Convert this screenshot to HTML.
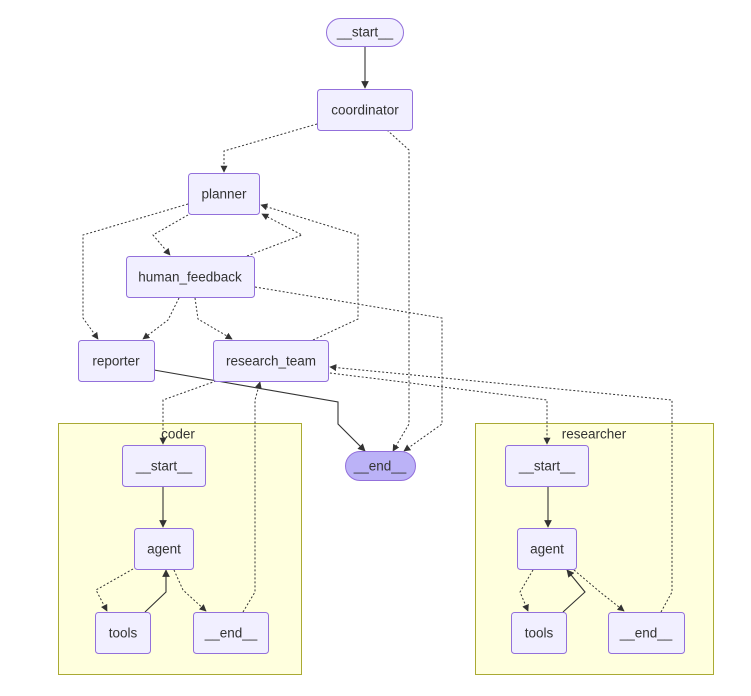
<!DOCTYPE html>
<html><head><meta charset="utf-8"><style>
html,body{margin:0;padding:0;background:#fff;}
svg{display:block;}
text{font-family:"Liberation Sans","DejaVu Sans",sans-serif;font-size:13.5px;fill:#333;text-anchor:middle;dominant-baseline:central;}
.n{fill:#f1efff;stroke:#9370db;stroke-width:1;}
.c{fill:#ffffde;stroke:#aaaa33;stroke-width:1;}
.s{fill:none;stroke:#333;stroke-width:1.1;}
.d{fill:none;stroke:#333;stroke-width:1;stroke-dasharray:2,2;}
</style></head><body>
<svg width="751" height="696" viewBox="0 0 751 696" xmlns="http://www.w3.org/2000/svg">
<defs><marker id="a" viewBox="0 0 10 10" refX="9" refY="5" markerWidth="7" markerHeight="7" orient="auto"><path d="M0,0L10,5L0,10z" fill="#333"/></marker></defs>
<rect class="c" x="58.5" y="423.5" width="243" height="251"/>
<rect class="c" x="475.5" y="423.5" width="238" height="251"/>
<text x="178" y="434">coder</text>
<text x="594" y="434">researcher</text>

<!-- edges -->
<path class="s" d="M365,46V88" marker-end="url(#a)"/>
<path class="d" d="M317,124L224,151V172" marker-end="url(#a)"/>
<path class="d" d="M387,130L409,150V424L393,451" marker-end="url(#a)"/>
<path class="d" d="M188,204L83,235V318L98,339" marker-end="url(#a)"/>
<path class="d" d="M188,215L153,235L170,255" marker-end="url(#a)"/>
<path class="d" d="M247,256L302,235L262,214" marker-end="url(#a)"/>
<path class="d" d="M313,340L358,319V235L261,205" marker-end="url(#a)"/>
<path class="d" d="M179,298L168,320L143,339" marker-end="url(#a)"/>
<path class="d" d="M195,298L198,319L232,339" marker-end="url(#a)"/>
<path class="d" d="M255,287L442,318V424L404,451" marker-end="url(#a)"/>
<path class="s" d="M154,370L338,402V424L365,451" marker-end="url(#a)"/>
<path class="d" d="M216,381L163,400V444" marker-end="url(#a)"/>
<path class="d" d="M243,612L255,592V400L260,382" marker-end="url(#a)"/>
<path class="d" d="M322,372L547,400V444" marker-end="url(#a)"/>
<path class="d" d="M661,612L672,592V400L330,367" marker-end="url(#a)"/>
<path class="s" d="M163,486V527" marker-end="url(#a)"/>
<path class="d" d="M133,569L96,590L107,611" marker-end="url(#a)"/>
<path class="s" d="M145,612L166,592V570" marker-end="url(#a)"/>
<path class="d" d="M174,570L183,590L206,611" marker-end="url(#a)"/>
<path class="s" d="M548,486V527" marker-end="url(#a)"/>
<path class="d" d="M533,570L520,592L528,611" marker-end="url(#a)"/>
<path class="s" d="M563,612L585,592L567,570" marker-end="url(#a)"/>
<path class="d" d="M574,570L600,592L624,611" marker-end="url(#a)"/>

<!-- nodes -->
<rect class="n" x="326.5" y="18.5" width="77" height="28" rx="14"/><text x="365" y="32">__start__</text>
<rect class="n" x="317.5" y="89.5" width="95" height="41" rx="3"/><text x="365" y="110">coordinator</text>
<rect class="n" x="188.5" y="173.5" width="71" height="41" rx="3"/><text x="224" y="194">planner</text>
<rect class="n" x="126.5" y="256.5" width="128" height="41" rx="3"/><text x="190" y="277">human_feedback</text>
<rect class="n" x="78.5" y="340.5" width="76" height="41" rx="3"/><text x="116" y="361">reporter</text>
<rect class="n" x="213.5" y="340.5" width="115" height="41" rx="3"/><text x="271" y="361">research_team</text>
<rect x="345.5" y="451.5" width="70" height="29" rx="14.5" fill="#bbb2f7" stroke="#9370db"/><text x="380" y="466">__end__</text>

<rect class="n" x="122.5" y="445.5" width="83" height="41" rx="3"/><text x="164" y="466">__start__</text>
<rect class="n" x="134.5" y="528.5" width="59" height="41" rx="3"/><text x="164" y="549">agent</text>
<rect class="n" x="95.5" y="612.5" width="55" height="41" rx="3"/><text x="123" y="633">tools</text>
<rect class="n" x="193.5" y="612.5" width="75" height="41" rx="3"/><text x="231" y="633">__end__</text>

<rect class="n" x="505.5" y="445.5" width="83" height="41" rx="3"/><text x="547" y="466">__start__</text>
<rect class="n" x="517.5" y="528.5" width="59" height="41" rx="3"/><text x="547" y="549">agent</text>
<rect class="n" x="511.5" y="612.5" width="55" height="41" rx="3"/><text x="539" y="633">tools</text>
<rect class="n" x="608.5" y="612.5" width="76" height="41" rx="3"/><text x="646" y="633">__end__</text>
</svg>
</body></html>
